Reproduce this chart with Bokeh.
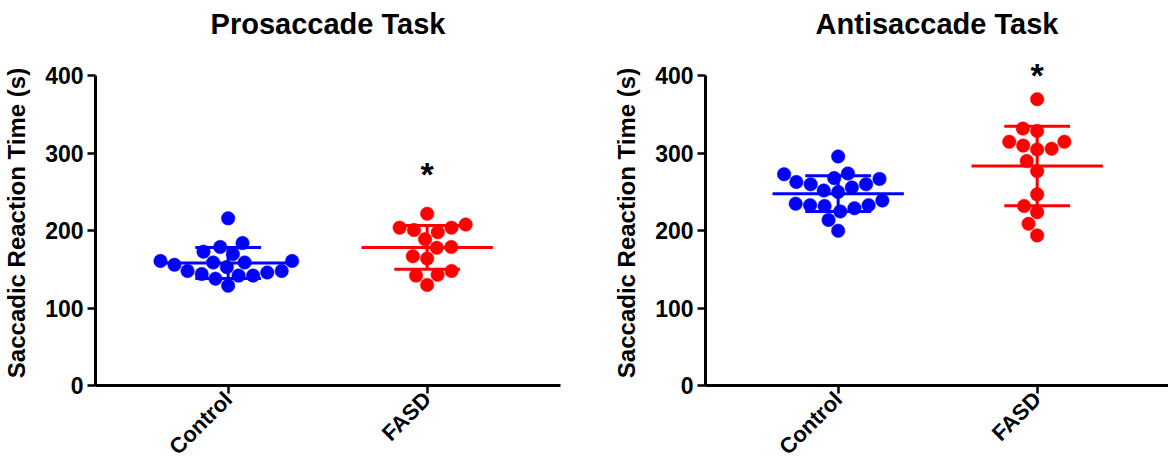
import numpy as np
from bokeh.plotting import figure
from bokeh.layouts import row
from bokeh.models import FixedTicker, Range1d, Title
from bokeh.embed import file_html
from bokeh.resources import INLINE
from bokeh.core.properties import value

# ---------------- data ----------------
groups = ["Control", "FASD"]
titles = ["Prosaccade Task", "Antisaccade Task"]
y_label = "Saccadic Reaction Time (s)"
y_ticks = [0, 100, 200, 300, 400]

pro_control = [216, 184, 173, 179, 170, 161, 159, 159, 161, 156, 148, 144,
               142, 153, 138, 142, 146, 148, 129]
pro_fasd = [222, 204, 201, 204, 208, 198, 189, 179, 178, 167, 164, 143,
            142, 148, 130]
anti_control = [296, 267, 273, 274, 268, 260, 256, 260, 263, 250, 252, 235,
                232, 229, 225, 233, 233, 239, 214, 200]
anti_fasd = [370, 329, 332, 315, 306, 305, 310, 315, 290, 277, 247, 232,
             224, 209, 194]
significant = [[False, True], [False, True]]   # '*' marker per group

colors = ["#0000FF", "#FF0000"]
FONT = "Liberation Sans"

PX_PER_X = 199.0   # pixels per category unit
PX_PER_Y = 0.775   # pixels per second
DOT = 13.5         # dot diameter (px)


def swarm(vals, d=DOT + 1.0):
    """Simple beeswarm: place each point as close to the centre as possible."""
    vals = np.asarray(vals, dtype=float)
    order = np.argsort(vals)
    placed = []
    offs = np.zeros(len(vals))
    for i in order:
        y = vals[i] * PX_PER_Y
        cands = [0.0]
        for px, py in placed:
            dy = abs(py - y)
            if dy < d:
                dx = np.sqrt(d * d - dy * dy)
                cands += [px + dx, px - dx]
        best = 0.0
        for c in sorted(cands, key=lambda c: (round(abs(c), 6), c)):
            if all((c - px) ** 2 + (y - py) ** 2 >= d * d - 1e-6 for px, py in placed):
                best = c
                break
        placed.append((best, y))
        offs[i] = best / PX_PER_X
    return offs


def make_panel(title, data, sig, width, border_right, x_end):
    p = figure(width=width, height=471, output_backend="svg", toolbar_location=None,
               x_range=Range1d(1/3, x_end), y_range=Range1d(0, 420),
               min_border_left=95, min_border_right=border_right,
               min_border_top=60, min_border_bottom=86)
    # spacer between the title and the plot area
    p.add_layout(Title(text=" ", text_font_size="10px", standoff=6), "above")
    p.add_layout(Title(text=title, align="center", text_font=FONT,
                       text_font_size="29px", text_font_style="bold",
                       text_color="black", standoff=4), "above")
    p.outline_line_color = None
    p.grid.visible = False
    p.background_fill_color = "white"
    p.border_fill_color = "white"

    for k, (vals, col) in enumerate(zip(data, colors)):
        g = k + 1
        vals = np.asarray(vals, dtype=float)
        m = vals.mean()
        sd = vals.std(ddof=1)
        # mean line, SD caps, vertical SD line
        p.segment(x0=[g - 0.33, g - 0.165, g - 0.165, g],
                  x1=[g + 0.33, g + 0.165, g + 0.165, g],
                  y0=[m, m + sd, m - sd, m - sd],
                  y1=[m, m + sd, m - sd, m + sd],
                  line_color=col, line_width=3)
        xs = g + swarm(vals)
        p.scatter(xs, vals, size=DOT, fill_color=col, line_color=col, line_width=0.5)
        if sig[k]:
            p.text(x=[g], y=[m + sd + 66], text=["*"], text_align="center",
                   text_baseline="middle", text_font=value(FONT),
                   text_font_size="34px", text_font_style="bold", text_color="black")

    # axes
    for ax in (p.xaxis, p.yaxis):
        ax.axis_line_width = 3
        ax.axis_line_color = "black"
        ax.major_tick_line_width = 2.5
        ax.major_tick_line_color = "black"
        ax.major_tick_in = 0
        ax.major_tick_out = 8
        ax.minor_tick_line_color = None
        ax.major_label_text_font = FONT
        ax.major_label_text_font_style = "bold"
        ax.major_label_text_color = "black"

    p.yaxis.major_label_text_font_size = "23px"
    p.xaxis.major_label_text_font_size = "22px"

    p.yaxis.ticker = FixedTicker(ticks=y_ticks)
    p.yaxis.bounds = (0, 400)
    p.yaxis.major_label_standoff = 4
    p.yaxis.axis_label = y_label
    p.yaxis.axis_label_text_font = FONT
    p.yaxis.axis_label_text_font_size = "24px"
    p.yaxis.axis_label_text_font_style = "bold"
    p.yaxis.axis_label_text_color = "black"
    p.yaxis.axis_label_standoff = 12

    p.xaxis.ticker = FixedTicker(ticks=[1, 2])
    p.xaxis.major_label_overrides = {1: groups[0], 2: groups[1]}
    p.xaxis.major_label_orientation = np.pi / 4
    p.xaxis.major_label_standoff = 2
    return p


p1 = make_panel(titles[0], [pro_control, pro_fasd], significant[0],
                width=610, border_right=50, x_end=1/3 + 465 / PX_PER_X)
p2 = make_panel(titles[1], [anti_control, anti_fasd], significant[1],
                width=558, border_right=0, x_end=1/3 + 463 / PX_PER_X)

layout = row(p1, p2)
open("out.html", "w").write(file_html(layout, INLINE))
